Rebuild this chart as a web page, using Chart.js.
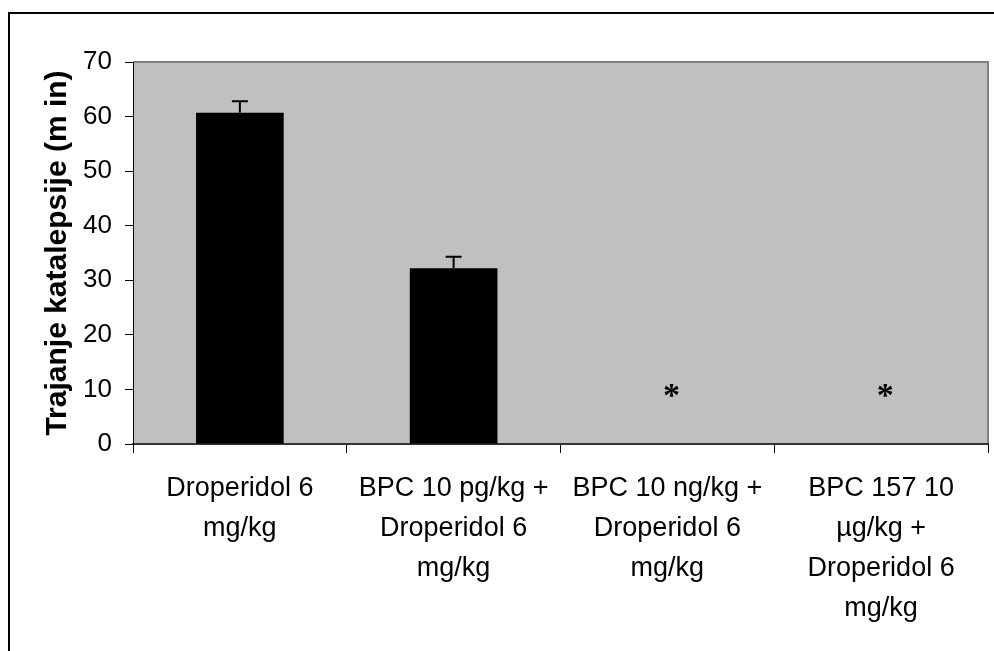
<!DOCTYPE html>
<html>
<head>
<meta charset="utf-8">
<title>Trajanje katalepsije</title>
<script src="https://cdn.jsdelivr.net/npm/chart.js@4.4.0/dist/chart.umd.min.js"></script>
<style>
  html, body { margin: 0; padding: 0; background: #fff; }
  #wrap { position: relative; width: 994px; height: 651px; overflow: hidden; }
</style>
</head>
<body>
<div id="wrap"><canvas id="chart" width="994" height="651"></canvas></div>
<script>
// values
const categories = [
    ['Droperidol 6', 'mg/kg'],
    ['BPC 10 pg/kg +', 'Droperidol 6', 'mg/kg'],
    ['BPC 10 ng/kg +', 'Droperidol 6', 'mg/kg'],
    ['BPC 157 10', 'µg/kg +', 'Droperidol 6', 'mg/kg']
];
const durations = [60.7, 32.2, 0, 0];
const errors = [2.1, 2.1, 0, 0];
const starMarks = [null, null, 10, 10];
const yTicks = [0, 10, 20, 30, 40, 50, 60, 70];

// background of the plot and the outer frame
const framePlugin = {
    id: 'frame',
    beforeDraw(chart) {
        const ctx = chart.ctx;
        const a = chart.chartArea;
        ctx.save();
        ctx.fillStyle = '#fff';
        ctx.fillRect(0, 0, chart.width, chart.height);
        ctx.strokeStyle = '#000';
        ctx.lineWidth = 2;
        ctx.beginPath();
        ctx.moveTo(9, chart.height);
        ctx.lineTo(9, 13);
        ctx.lineTo(chart.width, 13);
        ctx.stroke();
        ctx.fillStyle = '#c0c0c0';
        ctx.fillRect(a.left, a.top, a.right - a.left, a.bottom - a.top);
        ctx.strokeStyle = '#808080';
        ctx.lineWidth = 2;
        ctx.beginPath();
        ctx.moveTo(a.left, a.top);
        ctx.lineTo(a.right, a.top);
        ctx.lineTo(a.right, a.bottom);
        ctx.stroke();
        ctx.restore();
    }
};

// error bars (upper half only) and the significance stars
const markPlugin = {
    id: 'marks',
    afterDatasetsDraw(chart) {
        const ctx = chart.ctx;
        const x = chart.scales.x;
        const y = chart.scales.y;
        const meta = chart.getDatasetMeta(0);
        ctx.save();
        ctx.strokeStyle = '#000';
        ctx.lineWidth = 2;
        durations.forEach((v, i) => {
            if (!errors[i]) return;
            const cx = meta.data[i].x;
            const y0 = y.getPixelForValue(v);
            const y1 = y.getPixelForValue(v + errors[i]);
            ctx.beginPath();
            ctx.moveTo(cx, y0);
            ctx.lineTo(cx, y1);
            ctx.moveTo(cx - 8, y1);
            ctx.lineTo(cx + 8, y1);
            ctx.stroke();
        });
        ctx.fillStyle = '#000';
        ctx.font = 'bold 34px "Liberation Serif"';
        ctx.textAlign = 'center';
        ctx.textBaseline = 'alphabetic';
        starMarks.forEach((v, i) => {
            if (v === null) return;
            ctx.fillText('*', x.getPixelForValue(i) + 4, y.getPixelForValue(v) + 17);
        });
        ctx.restore();
    }
};

const ctx = document.getElementById('chart').getContext('2d');
const myChart = new Chart(ctx, {
    type: 'bar',
    data: {
        labels: categories,
        datasets: [{
            data: durations,
            backgroundColor: '#000',
            borderWidth: 0,
            barPercentage: 0.41,
            categoryPercentage: 1
        }]
    },
    options: {
        responsive: false,
        animation: false,
        devicePixelRatio: 1,
        layout: { padding: { top: 62, right: 6, left: 0, bottom: 0 } },
        plugins: {
            legend: { display: false },
            tooltip: { enabled: false }
        },
        scales: {
            x: {
                offset: true,
                grid: {
                    offset: true,
                    drawOnChartArea: false,
                    color: '#000',
                    tickLength: 9
                },
                border: { color: '#333', width: 2 },
                ticks: {
                    color: '#000',
                    padding: 16,
                    maxRotation: 0,
                    autoSkip: false,
                    font: { family: '"Liberation Sans", Arial, sans-serif', size: 27, lineHeight: 1.48 }
                },
                afterFit(scale) { scale.height = 207; }
            },
            y: {
                min: 0,
                max: 70,
                afterBuildTicks(scale) {
                    scale.ticks = yTicks.map(v => ({ value: v }));
                },
                grid: {
                    drawOnChartArea: false,
                    color: '#000',
                    tickLength: 8
                },
                border: { color: '#000', width: 1 },
                ticks: {
                    color: '#000',
                    padding: 13,
                    font: { family: '"Liberation Sans", Arial, sans-serif', size: 26 }
                },
                title: {
                    display: true,
                    text: 'Trajanje katalepsije (m in)',
                    color: '#000',
                    font: { family: '"Liberation Sans", Arial, sans-serif', size: 30, weight: 'bold' },
                    padding: { top: 40, bottom: 0 }
                },
                afterFit(scale) { scale.width = 133; }
            }
        }
    },
    plugins: [framePlugin, markPlugin]
});
</script>
</body>
</html>
